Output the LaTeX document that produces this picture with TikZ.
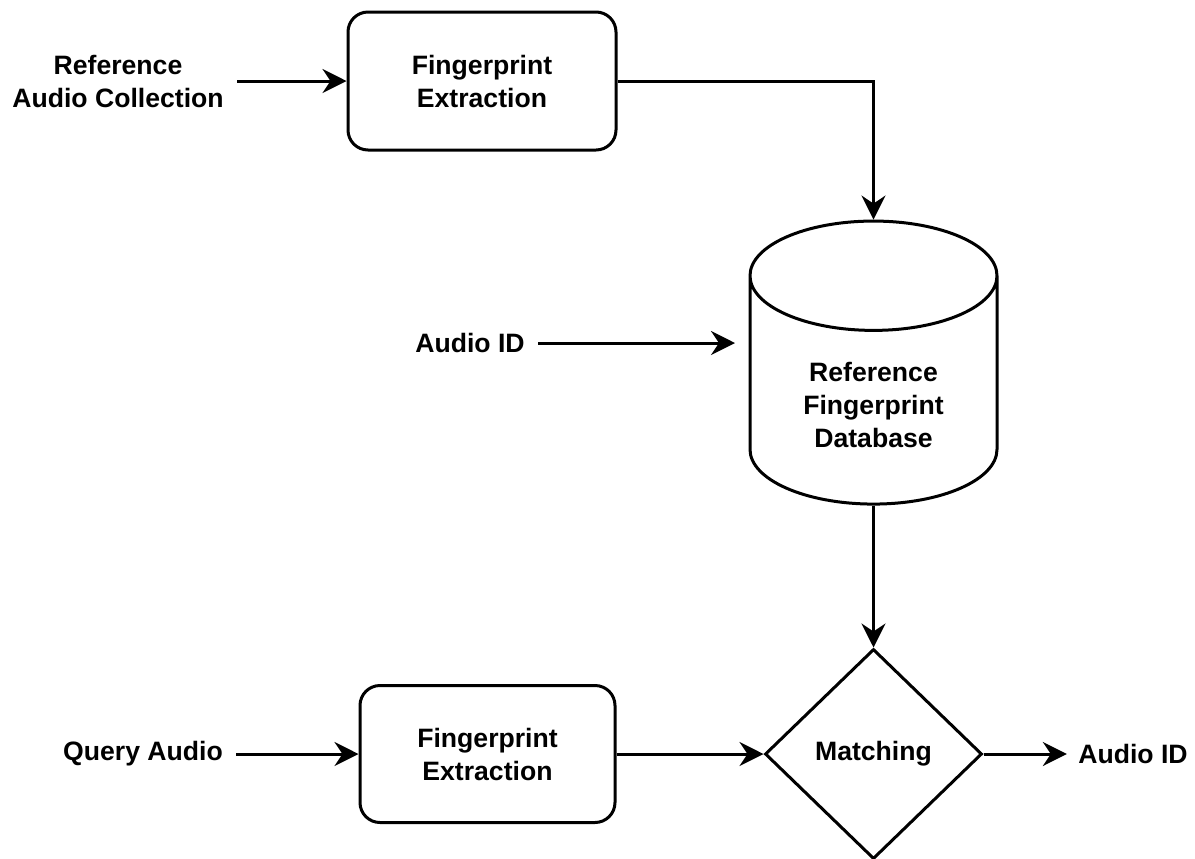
\documentclass[tikz,border=0pt]{standalone}
\usepackage{fontspec}
\setmainfont{Liberation Sans}
\usetikzlibrary{arrows.meta,shapes.geometric}

\begin{document}
\begin{tikzpicture}[x=0.5pt,y=-0.5pt,line width=1.5pt,
    >={Stealth[length=12pt,width=12pt,inset=4pt]},
    every node/.style={font=\fontsize{13.3}{16.5}\selectfont\bfseries,align=center},
    procbox/.style={draw,rounded corners=10pt,minimum width=134pt,minimum height=69pt},
    lbl/.style={inner sep=6pt}]
  \useasboundingbox (0,0) rectangle (1195,858);

  % top row: reference side
  \node[lbl] (refaudio) at (118,81) {Reference\\Audio Collection};
  \node[procbox] (fe1) at (482,81) {Fingerprint\\Extraction};

  % database
  \node[draw,cylinder,shape border rotate=90,aspect=8.2,
        minimum width=123.5pt,minimum height=141.5pt] (refdb) at (873.5,399.5) {};
  \node (refdbtext) at (873.5,405) {Reference\\Fingerprint\\Database};
  \node[lbl] (idin) at (470,343) {Audio ID};
  \coordinate (dbin) at (735,343);

  % bottom row: query side
  \node[lbl] (qaudio) at (143,754) {Query Audio};
  \node[procbox,minimum width=127.5pt,minimum height=68.5pt] (fe2) at (487.5,754) {Fingerprint\\Extraction};
  \node[draw,diamond,minimum width=108.5pt,minimum height=105pt,inner sep=0pt] (match) at (873.5,754) {Matching};
  \node[inner sep=5pt] (idout) at (1133,754) {Audio ID};

  \draw[->] (refaudio) -- (fe1);
  \draw[->] (fe1.east) -| (refdb.north);
  \draw[->] (idin) -- (dbin);
  \draw[->] (refdb.south) -- (match.north);
  \draw[->] (qaudio) -- (fe2);
  \draw[->] (fe2) -- (match);
  \draw[->] (match) -- (idout);
\end{tikzpicture}
\end{document}
